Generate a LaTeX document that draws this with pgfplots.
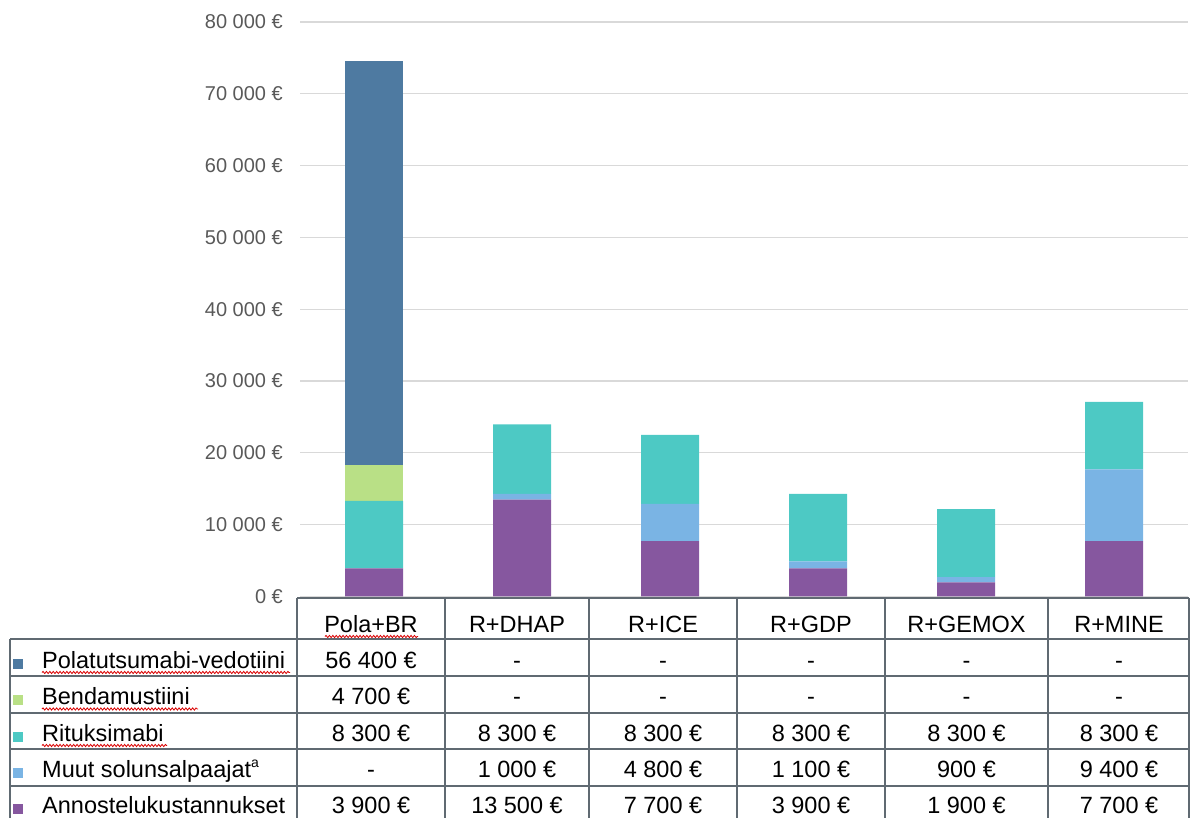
\documentclass[border=0pt]{standalone}
\usepackage{pgfplots}
\pgfplotsset{compat=1.18}
\usepackage{fontspec}
\setmainfont{Liberation Sans}
\usetikzlibrary{decorations.pathmorphing}
\definecolor{cPola}{RGB}{78,122,161}
\definecolor{cBenda}{RGB}{185,224,134}
\definecolor{cRitu}{RGB}{77,201,196}
\definecolor{cMuut}{RGB}{122,180,228}
\definecolor{cAnno}{RGB}{134,87,159}
\definecolor{tline}{RGB}{96,106,114}
\definecolor{tickgray}{RGB}{89,89,89}
\definecolor{gridgray}{RGB}{217,217,217}
\newcommand{\tf}{\fontsize{23.5bp}{28bp}\selectfont}
\begin{document}
\begin{tikzpicture}[x=1bp,y=1bp]
\path[use as bounding box] (0,0) rectangle (1190,818);
\begin{axis}[
  at={(300bp,221.5bp)}, anchor=south west, scale only axis,
  width=888bp, height=574.5bp,
  xmin=-0.5, xmax=5.5, ymin=0, ymax=80000,
  ybar stacked, bar width=58bp,
  axis line style={draw=none},
  xtick=\empty,
  ytick={0,10000,20000,30000,40000,50000,60000,70000,80000},
  yticklabels={0 €,10 000 €,20 000 €,30 000 €,40 000 €,50 000 €,60 000 €,70 000 €,80 000 €},
  tick style={draw=none},
  ymajorgrids, grid style={gridgray, line width=1.2bp},
  yticklabel style={font=\fontsize{20bp}{24bp}\selectfont, text=tickgray, anchor=east, inner sep=0pt, xshift=-17bp},
  scaled y ticks=false,
]
% Annostelukustannukset
\addplot[fill=cAnno, draw=none] coordinates {(0,3900) (1,13500) (2,7700) (3,3900) (4,1950) (5,7700)};
% Muut solunsalpaajat
\addplot[fill=cMuut, draw=none] coordinates {(0,0) (1,800) (2,5200) (3,1000) (4,750) (5,10000)};
% Rituksimabi
\addplot[fill=cRitu, draw=none] coordinates {(0,9400) (1,9650) (2,9600) (3,9400) (4,9450) (5,9400)};
% Bendamustiini
\addplot[fill=cBenda, draw=none] coordinates {(0,5000) (1,0) (2,0) (3,0) (4,0) (5,0)};
% Polatutsumabi-vedotiini
\addplot[fill=cPola, draw=none] coordinates {(0,56300) (1,0) (2,0) (3,0) (4,0) (5,0)};
\end{axis}
% ---- data table ----
\begin{scope}[tline, line width=1.9bp]
\draw (297,220) -- (1189,220);
\draw (10,179) -- (1189,179);
\foreach \y in {142,105,69,32} \draw (10,\y) -- (1189,\y);
\draw (10,179) -- (10,-10);
\foreach \x in {297,445,589,737,885,1048,1189} \draw (\x,220) -- (\x,-10);
\end{scope}
% header
\foreach \x/\t in {371/Pola+BR,517/R+DHAP,663/R+ICE,811/R+GDP,966.5/R+GEMOX,1119/R+MINE}
  \node[anchor=base, inner sep=0pt, font=\tf] at (\x,185) {\t};
% row labels and legend keys
\foreach \y/\c/\t in {149.5/cPola/Polatutsumabi-vedotiini,113/cBenda/Bendamustiini,76.5/cRitu/Rituksimabi,40/cMuut/{Muut solunsalpaajat\raisebox{0.45em}{\fontsize{14bp}{16bp}\selectfont a}},4/cAnno/Annostelukustannukset}{
  \fill[\c] (13,\y-0.5) rectangle (23,\y+9.5);
  \node[anchor=base west, inner sep=0pt, font=\tf] at (42,\y) {\t};
}
% spelling squiggles
\begin{scope}[red!85!black, line width=0.8bp, decorate, decoration={snake, amplitude=1.1bp, segment length=3.4bp}]
\draw[decorate] (325,181.5) -- (418,181.5);
\draw[decorate] (42,145.5) -- (290,145.5);
\draw[decorate] (42,109) -- (198,109);
\draw[decorate] (42,72.5) -- (167,72.5);
\end{scope}
% cells
\foreach \x/\a/\b/\c/\d/\e in {
  371/56 400 €/4 700 €/8 300 €/-/3 900 €,
  517/-/-/8 300 €/1 000 €/13 500 €,
  663/-/-/8 300 €/4 800 €/7 700 €,
  811/-/-/8 300 €/1 100 €/3 900 €,
  966.5/-/-/8 300 €/900 €/1 900 €,
  1119/-/-/8 300 €/9 400 €/7 700 €}{
  \node[anchor=base, inner sep=0pt, font=\tf] at (\x,149.5) {\a};
  \node[anchor=base, inner sep=0pt, font=\tf] at (\x,113) {\b};
  \node[anchor=base, inner sep=0pt, font=\tf] at (\x,76.5) {\c};
  \node[anchor=base, inner sep=0pt, font=\tf] at (\x,40) {\d};
  \node[anchor=base, inner sep=0pt, font=\tf] at (\x,4) {\e};
}
\end{tikzpicture}
\end{document}
